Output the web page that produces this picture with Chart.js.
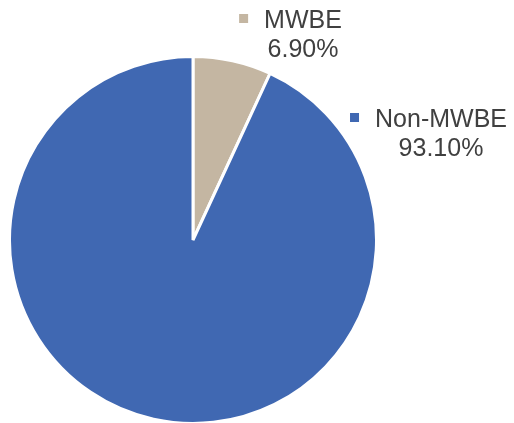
<!DOCTYPE html>
<html>
<head>
<meta charset="utf-8">
<script src="https://cdn.jsdelivr.net/npm/chart.js@4"></script>
<style>
  html, body { margin: 0; padding: 0; background: #fff; overflow: hidden; }
  #wrap { width: 514px; height: 426px; }
</style>
</head>
<body>
<div id="wrap"><canvas id="pieChart" width="514" height="426"></canvas></div>
<script>
const LABELS = ["MWBE", "Non-MWBE"]
const VALUES = [6.90, 93.10]
const COLORS = ['#C4B6A2', '#4068B2']

// where each label block sits (center of the text lines)
const LABEL_POS = [
    { x: 303, y: 28 },
    { x: 441, y: 127 }
]

// draws "■ Name" and "xx.xx%" next to each slice, Excel style
const sliceLabels = {
    id: 'sliceLabels',
    afterDraw(chart) {
        const ctx = chart.ctx
        const data = chart.data.datasets[0].data
        ctx.save()
        ctx.font = '25px "Liberation Sans", Arial, sans-serif'
        ctx.fillStyle = '#404040'
        ctx.textAlign = 'center'
        ctx.textBaseline = 'alphabetic'
        data.forEach(function(v, i){
            var p = LABEL_POS[i]
            var name = chart.data.labels[i]
            var w = ctx.measureText(name).width
            ctx.fillStyle = '#404040'
            ctx.fillText(name, p.x, p.y)
            ctx.fillText(v.toFixed(2) + '%', p.x, p.y + 29)
            ctx.fillStyle = COLORS[i]
            ctx.fillRect(p.x - w / 2 - 25, p.y - 14, 9, 9)
        })
        ctx.restore()
    }
}

var pieChart = new Chart(document.getElementById('pieChart'), {
    type: 'pie',
    data: {
        labels: LABELS,
        datasets: [{
            data: VALUES,
            backgroundColor: COLORS,
            borderColor: '#ffffff',
            borderWidth: 3
        }]
    },
    options: {
        responsive: false,
        animation: false,
        layout: {
            padding: { left: 8, right: 136, top: 55, bottom: 1 }
        },
        plugins: {
            legend: { display: false },
            tooltip: { enabled: false }
        }
    },
    plugins: [sliceLabels]
});
</script>
</body>
</html>
